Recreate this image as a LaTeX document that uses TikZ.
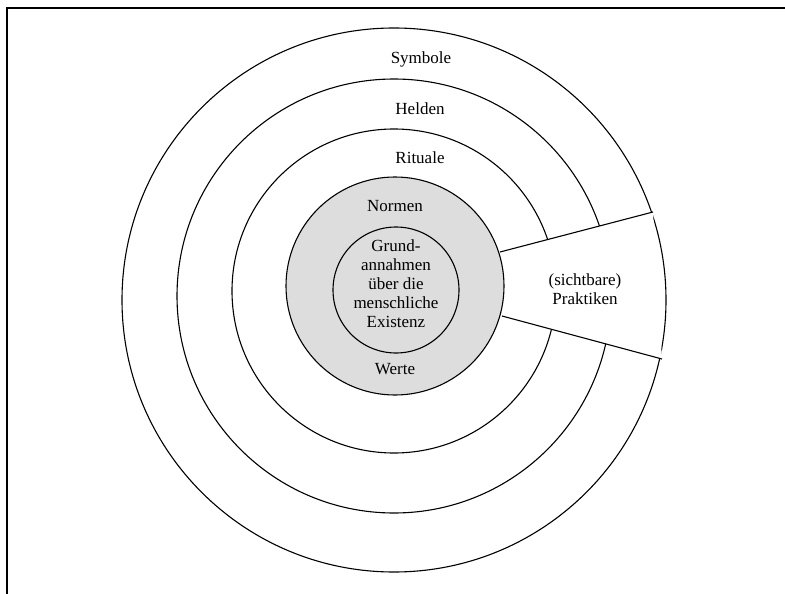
\documentclass[tikz,border=0pt]{standalone}
\usepackage{fontspec}
\setmainfont{Liberation Serif}
\definecolor{corefill}{RGB}{221,221,221}
\begin{document}
\begin{tikzpicture}[x=1pt,y=-1pt,
  ring/.style={draw=black, line width=1.1pt},
  lbl/.style={font=\fontsize{17}{19}\selectfont, align=center, inner sep=0pt}]
\useasboundingbox (0,0) rectangle (785,594);
% frame edges
\draw[line width=1.4pt] (7,594) -- (7,8) -- (785,8);
% outer layers
\draw[ring] (394,300) circle[radius=272pt];
\draw[ring] (394,296) circle[radius=217pt];
\draw[ring] (394,291) circle[radius=162pt];
% wedge for the practices
\coordinate (wA) at (500,252);
\coordinate (wB) at (653,212);
\coordinate (wC) at (662,359);
\coordinate (wD) at (502,316);
\fill[white] (wA) -- (wB) -- (wC) -- (wD) -- cycle;
\draw[ring] (wA) -- (wB);
\draw[ring] (wD) -- (wC);
% core: values and basic assumptions
\draw[ring, fill=corefill] (395,286) circle[radius=109pt];
\draw[ring] (396,290) circle[radius=63pt];
% labels
\node[lbl, anchor=base] (symbole) at (421,64) {Symbole};
\node[lbl, anchor=base] (helden) at (420,114) {Helden};
\node[lbl, anchor=base] (rituale) at (420,163) {Rituale};
\node[lbl, anchor=base] (normen) at (395,211) {Normen};
\node[lbl, anchor=base] (werte) at (395,374) {Werte};
\node[lbl] (grund) at (396,284) {Grund-\\annahmen\\über die\\menschliche\\Existenz};
\node[lbl] (praktiken) at (585,289) {(sichtbare)\\Praktiken};
\end{tikzpicture}
\end{document}
